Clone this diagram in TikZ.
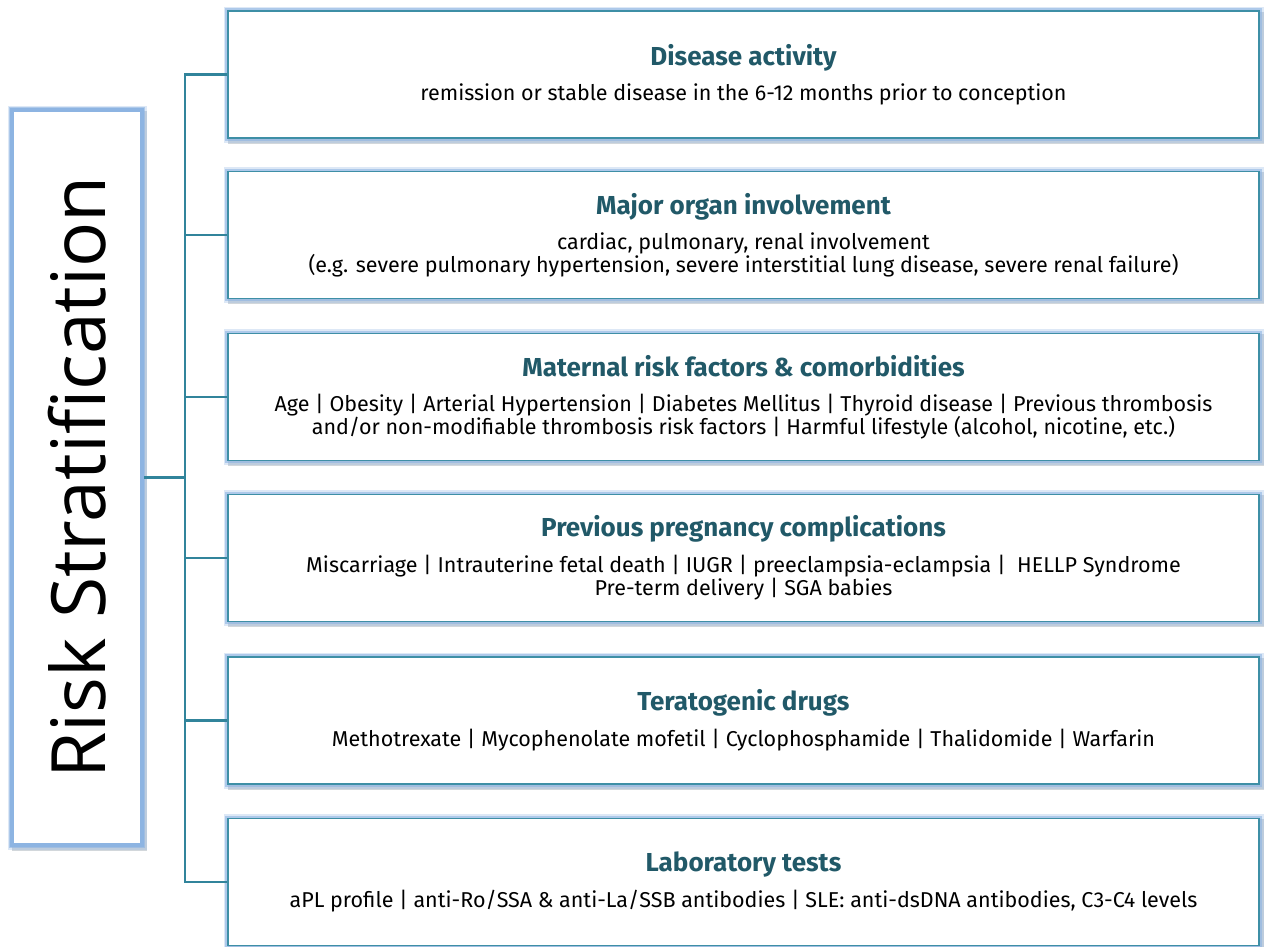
\documentclass[tikz,border=0pt]{standalone}
\usepackage{fontspec}
\setmainfont{Fira Sans}
\newfontfamily\riskfont{Open Sans}
\usetikzlibrary{positioning}
\definecolor{boxteal}{HTML}{3E8FA6}
\definecolor{linkteal}{HTML}{31849B}
\definecolor{glowblue}{HTML}{8DB4E2}
\definecolor{titleteal}{HTML}{215968}
\definecolor{shadegray}{HTML}{7F8C99}
\newcommand{\titlefont}{\fontsize{26}{23}\selectfont\bfseries\color{titleteal}}

\begin{document}
\begin{tikzpicture}[x=1pt,y=-1pt]
\tikzset{
  glow/.style={preaction={draw=shadegray,line width=5pt,draw opacity=0.35,transform canvas={xshift=2pt,yshift=-3pt}},
    preaction={draw=glowblue,line width=9pt,draw opacity=0.3},
    preaction={draw=glowblue,line width=5.5pt,draw opacity=0.6}},
  itembox/.style={glow,rectangle,draw=boxteal,line width=1.4pt,fill=white,minimum width=1031pt,minimum height=127pt,
    inner sep=0pt,align=center,font=\fontsize{21.5}{23}\selectfont},
  riskbox/.style={glow,rectangle,draw=glowblue,line width=4pt,fill=white,minimum width=130pt,minimum height=735pt,inner sep=0pt},
  link/.style={draw=linkteal,line width=2.4pt}
}
\useasboundingbox (0,0) rectangle (1264,946);
\node[riskbox] (risk) at (77,477.5) {};
\node[rotate=90,font=\riskfont\fontsize{75}{75}\selectfont] (risklabel) at (risk.center) {Risk Stratification};
\coordinate (hub) at (185,477.5);

\node[itembox] (b1) at (743.5,74.5) {{\titlefont Disease activity}\\[12pt]
remission or stable disease in the 6-12 months prior to conception};
\node[itembox] (b2) at (743.5,235) {{\titlefont Major organ involvement}\\[12pt]
cardiac, pulmonary, renal involvement\\
(e.g. severe pulmonary hypertension, severe interstitial lung disease, severe renal failure)};
\node[itembox] (b3) at (743.5,397) {{\titlefont Maternal risk factors \& comorbidities}\\[12pt]
Age | Obesity | Arterial Hypertension | Diabetes Mellitus | Thyroid disease | Previous thrombosis\\
and/or non-modifiable thrombosis risk factors | Harmful lifestyle (alcohol, nicotine, etc.)};
\node[itembox] (b4) at (743.5,558) {{\titlefont Previous pregnancy complications}\\[12pt]
Miscarriage | Intrauterine fetal death | IUGR | preeclampsia-eclampsia |\ \ HELLP Syndrome\\
Pre-term delivery | SGA babies};
\node[itembox] (b5) at (743.5,720.5) {{\titlefont Teratogenic drugs}\\[12pt]
Methotrexate | Mycophenolate mofetil | Cyclophosphamide | Thalidomide | Warfarin};
\node[itembox] (b6) at (743.5,882) {{\titlefont Laboratory tests}\\[12pt]
aPL profile | anti-Ro/SSA \& anti-La/SSB antibodies | SLE: anti-dsDNA antibodies, C3-C4 levels};

% tree connectors
\draw[link] (risk.east) -- (hub);
\foreach \b in {b1,b2,b3,b4,b5,b6}
  \draw[link] (\b.west) -| (hub);
\end{tikzpicture}
\end{document}
